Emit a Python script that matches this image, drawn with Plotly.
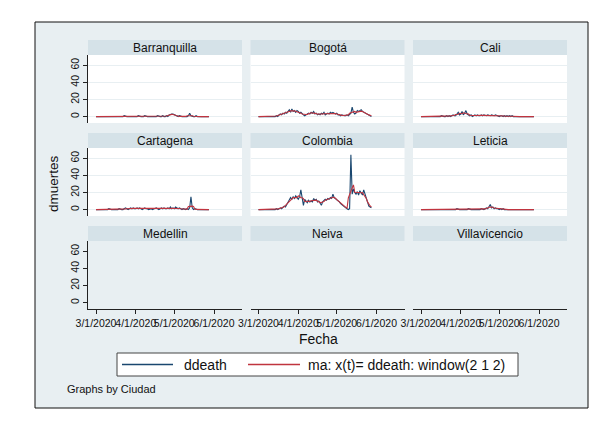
import pandas as pd
import plotly.graph_objects as go

# ---------------- data ----------------
cities = ["Barranquilla", "Bogotá", "Cali", "Cartagena", "Colombia", "Leticia",
          "Medellin", "Neiva", "Villavicencio"]
start_date = "2020-03-01"
n_days = 89

ddeath_barranquilla = [0,0,0,0,0,0,0,0,0,0, 0,0,0,0,0,0,0,0,0,0, 0,0,1,0,0,0,0,0,0,0,
                       0,0,0,1,0,0,0,0,1,0, 0,0,0,0,0,0,0,0,1,0, 0,0,1,0,0,1,0,2,3,3,
                       3,2,1,0,0,1,0,0,0,0, 0,0,1,4,1,0,0,0,1,0, 0,0,0,0,0,0,0,0,0]
ddeath_bogota = [0,0,0,0,0,0,0,0,0,0, 0,0,0,0,1,0,2,3,2,4, 3,5,4,6,8,5,9,6,7,5,
                 7,6,4,5,3,2,1,2,3,4, 3,5,4,6,3,4,2,3,2,4, 3,5,2,3,4,3,5,4,5,4,
                 3,4,2,2,1,2,1,1,1,2, 1,2,4,11,5,3,4,7,6,7, 8,6,5,4,4,3,2,1,0]
ddeath_cali = [0,0,0,0,0,0,0,0,0,0, 0,0,0,0,0,0,1,0,0,0, 1,0,1,0,1,2,1,1,3,5,
               2,3,6,2,4,7,3,2,1,2, 0,1,2,1,2,1,1,2,1,2, 1,1,2,1,1,2,1,1,2,1,
               1,0,1,1,0,1,0,1,0,1, 0,1,0,0,0,0,0,0,0,0, 0,0,0,0,0,0,0,0,0]
ddeath_cartagena = [0,0,0,0,0,0,0,0,0,0, 1,0,0,0,0,0,0,0,1,0, 0,0,1,2,1,0,1,2,1,2,
                    1,1,2,1,2,1,0,1,2,1, 1,0,1,1,0,1,1,2,1,0, 1,2,1,2,1,1,2,1,3,1,
                    2,1,3,2,1,2,1,0,1,0, 0,1,0,2,15,2,0,1,0,0, 0,0,0,0,0,0,0,0,0]
ddeath_colombia = [0,0,0,0,0,0,0,0,0,0, 0,0,0,0,1,0,1,2,1,3, 4,3,6,8,11,14,12,15,13,16,
                   14,12,15,23,14,5,12,10,8,11, 9,10,9,13,11,12,9,10,8,5, 9,10,12,11,13,12,14,13,18,14,
                   13,12,10,9,7,6,4,3,2,1, 0,1,64,18,24,20,18,21,17,22, 19,17,23,18,12,8,4,3,2]
ddeath_leticia = [0,0,0,0,0,0,0,0,0,0, 0,0,0,0,0,0,0,0,0,0, 0,0,0,0,0,0,0,0,1,0,
                  0,0,0,0,0,0,0,1,0,0, 0,0,0,0,0,0,0,1,0,0, 1,2,1,3,6,2,3,1,2,1,
                  1,0,1,0,1,0,0,0,0,0, 0,0,0,0,0,0,0,0,0,0, 0,0,0,0,0,0,0,0,0]
ddeath_medellin = []
ddeath_neiva = []
ddeath_villavicencio = []

series = [ddeath_barranquilla, ddeath_bogota, ddeath_cali, ddeath_cartagena,
          ddeath_colombia, ddeath_leticia, ddeath_medellin, ddeath_neiva,
          ddeath_villavicencio]

tick_dates = ["2020-03-01", "2020-04-01", "2020-05-01", "2020-06-01"]
tick_labels = ["3/1/2020", "4/1/2020", "5/1/2020", "6/1/2020"]
y_ticks = [0, 20, 40, 60]
legend_labels = ["ddeath", "ma: x(t)= ddeath: window(2 1 2)"]

# ---------------- styling ----------------
W, H = 607, 426
FONT = "Liberation Sans, Arial, Helvetica, sans-serif"
BG = "#e8eff2"
STRIP = "#d5e2e8"
BLUE = "#1a476f"
RED = "#c0343f"
TXT = "#111111"

def fx(px):
    return px / W

def fy(py):
    return 1 - py / H

col_px = [(88, 242), (250.5, 404.5), (413, 567)]
row_px = [(55, 123), (148, 216), (241, 309)]
STRIP_H = 15
x_range = ["2020-02-23 18:00", "2020-06-22 19:00"]
y_range = [-7.5, 72]

dates = pd.date_range(start_date, periods=n_days, freq="D")

fig = go.Figure()
shapes = []
annotations = []

# outer graph region
shapes.append(dict(type="rect", xref="paper", yref="paper",
                   x0=fx(35), x1=fx(588), y0=fy(408), y1=fy(22),
                   fillcolor=BG, line=dict(color="#111111", width=1), layer="below"))

layout_axes = {}
for i, city in enumerate(cities):
    r, c = divmod(i, 3)
    k = i + 1
    xs = "" if k == 1 else str(k)
    cx0, cx1 = col_px[c]
    ry0, ry1 = row_px[r]
    vals = series[i]
    has_data = len(vals) > 0

    layout_axes["xaxis" + xs] = dict(
        domain=[fx(cx0), fx(cx1)], anchor="y" + xs, type="date", range=x_range,
        tickmode="array", tickvals=tick_dates, ticktext=tick_labels, tickangle=0,
        showticklabels=(r == 2), ticks="outside" if r == 2 else "",
        ticklen=4, tickcolor="#222222", showline=(r == 2), linecolor="#222222",
        linewidth=1, showgrid=False, zeroline=False, automargin=False,
        tickfont=dict(size=10.5, color=TXT, family=FONT),
    )
    layout_axes["yaxis" + xs] = dict(
        domain=[fy(ry1), fy(ry0)], anchor="x" + xs, range=y_range,
        tickmode="array", tickvals=y_ticks,
        showticklabels=(c == 0), ticks="outside" if c == 0 else "",
        ticklen=4, tickcolor="#222222", showline=(c == 0), linecolor="#222222",
        linewidth=1, showgrid=True, gridcolor=BG, gridwidth=1, zeroline=False,
        automargin=False, tickangle=-90,
        tickfont=dict(size=10.5, color=TXT, family=FONT),
    )

    # strip
    shapes.append(dict(type="rect", xref="paper", yref="paper",
                       x0=fx(cx0), x1=fx(cx1), y0=fy(ry0), y1=fy(ry0 - STRIP_H),
                       fillcolor=STRIP, line=dict(width=0), layer="below"))
    annotations.append(dict(text=city, xref="paper", yref="paper",
                            x=fx((cx0 + cx1) / 2), y=fy(ry0 - STRIP_H / 2),
                            xanchor="center", yanchor="middle", showarrow=False,
                            font=dict(size=12, color=TXT, family=FONT)))

    if has_data:
        shapes.append(dict(type="rect", xref="x" + xs + " domain", yref="y" + xs + " domain",
                           x0=0, x1=1, y0=0, y1=1, fillcolor="white",
                           line=dict(width=0), layer="below"))
        s = pd.Series(vals, index=dates[:len(vals)])
        ma = s.rolling(5, center=True, min_periods=1).mean()
        fig.add_trace(go.Scatter(x=s.index, y=s.values, mode="lines",
                                 line=dict(color=BLUE, width=1.1),
                                 name=legend_labels[0], showlegend=False,
                                 xaxis="x" + xs, yaxis="y" + xs))
        fig.add_trace(go.Scatter(x=ma.index, y=ma.values, mode="lines",
                                 line=dict(color=RED, width=1.1),
                                 name=legend_labels[1], showlegend=False,
                                 xaxis="x" + xs, yaxis="y" + xs))
    else:
        # empty panel: keep its axes drawn
        fig.add_trace(go.Scatter(x=[], y=[], mode="lines", showlegend=False,
                                 hoverinfo="skip", xaxis="x" + xs, yaxis="y" + xs))

# legend box (drawn like Stata's)
LEG_Y = 364.5
shapes.append(dict(type="rect", xref="paper", yref="paper",
                   x0=fx(117), x1=fx(518), y0=fy(376), y1=fy(353),
                   fillcolor="white", line=dict(color="#444444", width=1)))
shapes.append(dict(type="line", xref="paper", yref="paper",
                   x0=fx(122), x1=fx(173), y0=fy(LEG_Y), y1=fy(LEG_Y),
                   line=dict(color=BLUE, width=1.3)))
shapes.append(dict(type="line", xref="paper", yref="paper",
                   x0=fx(248), x1=fx(300), y0=fy(LEG_Y), y1=fy(LEG_Y),
                   line=dict(color=RED, width=1.3)))
annotations.append(dict(text=legend_labels[0], xref="paper", yref="paper", x=fx(182), y=fy(LEG_Y),
                        showarrow=False, xanchor="left", yanchor="middle",
                        font=dict(size=14, color=TXT, family=FONT)))
annotations.append(dict(text=legend_labels[1], xref="paper", yref="paper", x=fx(306), y=fy(LEG_Y),
                        showarrow=False, xanchor="left", yanchor="middle",
                        font=dict(size=14, color=TXT, family=FONT)))

annotations.append(dict(text="dmuertes", xref="paper", yref="paper", x=fx(53), y=fy(184),
                        textangle=-90, showarrow=False, xanchor="center", yanchor="middle",
                        font=dict(size=13.5, color=TXT, family=FONT)))
annotations.append(dict(text="Fecha", xref="paper", yref="paper", x=fx(318), y=fy(339),
                        showarrow=False, xanchor="center", yanchor="middle",
                        font=dict(size=14, color=TXT, family=FONT)))
annotations.append(dict(text="Graphs by Ciudad", xref="paper", yref="paper", x=fx(65), y=fy(389),
                        showarrow=False, xanchor="left", yanchor="middle",
                        font=dict(size=11, color=TXT, family=FONT)))

fig.update_layout(
    width=W, height=H, margin=dict(l=0, r=0, t=0, b=0),
    paper_bgcolor="white", plot_bgcolor="rgba(0,0,0,0)",
    font=dict(family=FONT, color=TXT),
    shapes=shapes, annotations=annotations, showlegend=False,
    **layout_axes,
)

# put the figure at the page origin (no default body margin), hide the modebar
fig.write_html("out.html",
               config={"displayModeBar": False, "staticPlot": True},
               post_script="document.body.style.margin='0';document.body.style.overflow='hidden';")
